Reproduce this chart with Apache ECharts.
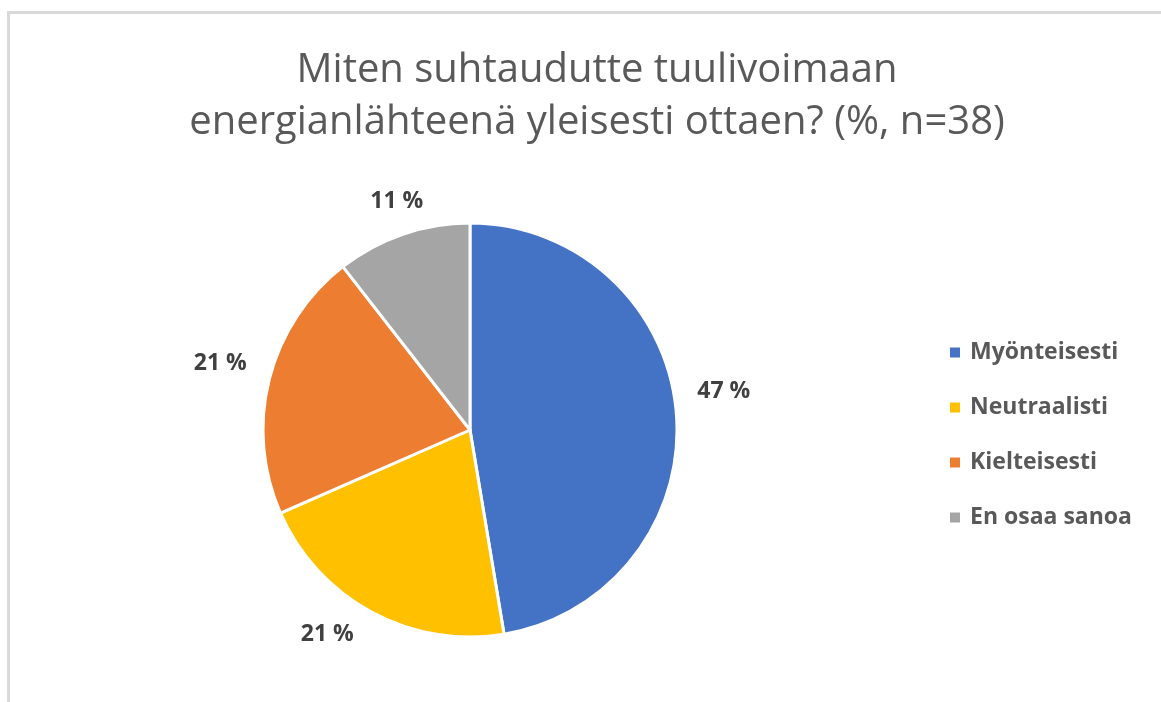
<!DOCTYPE html>
<html>
<head>
<meta charset="utf-8">
<script src="https://cdn.jsdelivr.net/npm/echarts@6/dist/echarts.min.js"></script>
<style>
  html, body { margin: 0; padding: 0; background: #fff; }
  #main { width: 1161px; height: 702px; }
</style>
</head>
<body>
<div id="main"></div>
<script>
// vastausvaihtoehdot ja vastaajamäärät (n=38 -> 47 %, 21 %, 21 %, 11 %)
const categories = ['Myönteisesti', 'Neutraalisti', 'Kielteisesti', 'En osaa sanoa'];
const counts = [18, 8, 8, 4];
const colors = ['#4472C4', '#FFC000', '#ED7D31', '#A5A5A5'];
// pientä siirtoa jotta prosenttiluvut osuu samoihin kohtiin kuin excelissä
const labelOffsets = [[2, -20], [-6, 10], [-4, -12], [30, -20]];

const chart = echarts.init(document.getElementById('main'));

const pieData = categories.map((name, i) => ({
  name: name,
  value: counts[i],
  itemStyle: { color: colors[i] },
  label: { offset: labelOffsets[i] }
}));

const option = {
  animation: false,
  title: {
    text: 'Miten suhtaudutte tuulivoimaan\nenergianlähteenä yleisesti ottaen? (%, n=38)',
    left: 592,
    top: 40,
    textAlign: 'center',
    textStyle: {
      fontFamily: 'Open Sans',
      fontSize: 40,
      fontWeight: 'normal',
      color: '#595959',
      lineHeight: 52
    }
  },
  legend: {
    orient: 'vertical',
    left: 948,
    top: 341,
    padding: 0,
    itemWidth: 12,
    itemHeight: 12,
    itemGap: 32,
    icon: 'rect',
    textStyle: {
      fontFamily: 'Open Sans',
      fontSize: 23,
      fontWeight: 'bold',
      color: '#595959',
      padding: [0, 0, 0, 4]
    },
    data: categories
  },
  // kehys vasemmalla ja ylhäällä
  graphic: [
    { type: 'rect', shape: { x: 7, y: 11, width: 1160, height: 3 }, style: { fill: '#d9d9d9' } },
    { type: 'rect', shape: { x: 7, y: 11, width: 3, height: 700 }, style: { fill: '#d9d9d9' } }
  ],
  series: [{
    type: 'pie',
    center: [470, 430],
    radius: 207,
    startAngle: 90,
    clockwise: true,
    itemStyle: { borderColor: '#fff', borderWidth: 3 },
    label: {
      show: true,
      position: 'outside',
      formatter: p => Math.round(p.percent) + ' %',
      fontFamily: 'Open Sans',
      fontSize: 23,
      fontWeight: 'bold',
      color: '#404040'
    },
    labelLine: { show: false, length: 14, length2: 0 },
    data: pieData
  }]
};

chart.setOption(option);
</script>
</body>
</html>
